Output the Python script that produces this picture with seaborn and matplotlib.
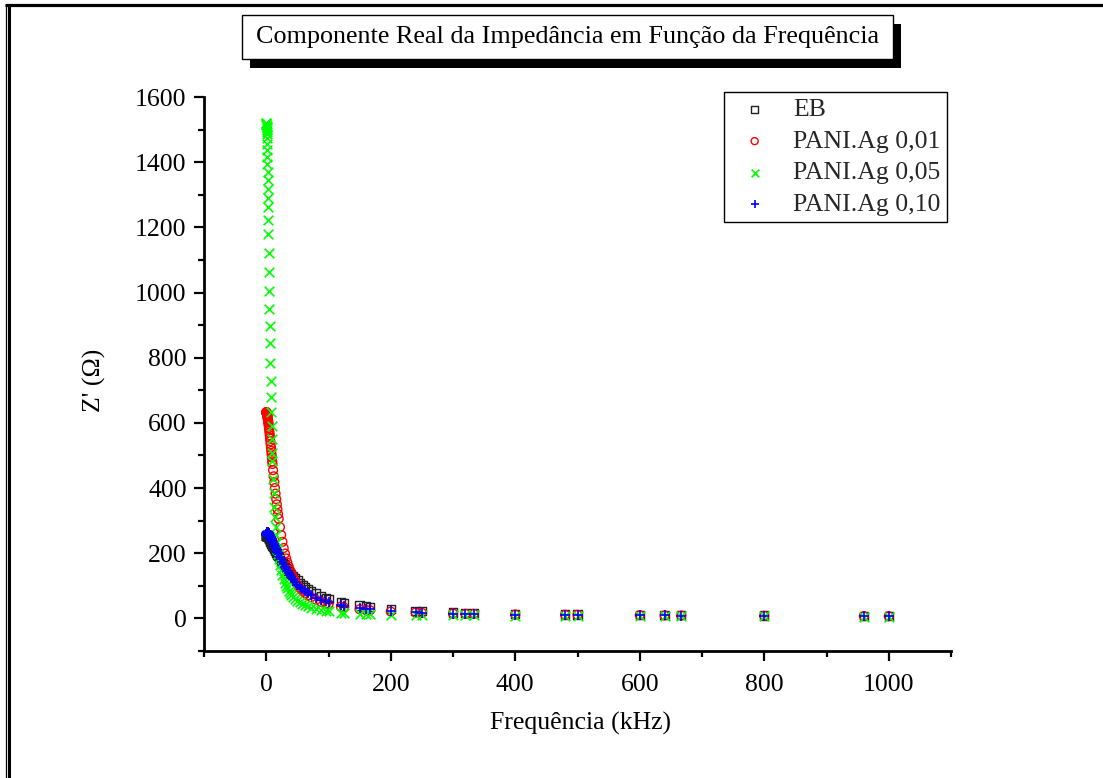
import matplotlib
matplotlib.use("Agg")
import matplotlib.pyplot as plt
from matplotlib.lines import Line2D
from matplotlib.patches import Rectangle
from matplotlib.ticker import MultipleLocator
import seaborn as sns

# Frequency sweep (kHz), shared by all samples
freq_khz = [
    0.1, 0.2, 0.3, 0.4, 0.5, 0.6, 0.7, 0.8, 0.9, 1.0,
    1.2, 1.4, 1.6, 1.8, 2.0, 2.2, 2.4, 2.6, 2.8, 3.0,
    3.3, 3.6, 4.0, 4.4, 4.8, 5.2, 5.6, 6.0, 6.5, 7.0,
    7.5, 8.0, 8.5, 9.0, 9.6, 10, 11, 12, 13, 14,
    15, 16, 17, 18, 19, 20, 22, 24, 26, 28,
    30, 32, 34, 36, 38, 40, 43, 46, 50, 54,
    58, 62, 66.7, 72, 80, 88, 96, 100, 120, 125,
    150, 160, 166.7, 200, 240, 250, 300, 320, 333.3, 400,
    480, 500, 600, 640, 666.7, 800, 960, 1000,
]

# Real part of the impedance Z' (ohm) for each sample
z_eb = [
    252, 252, 253, 253, 253, 254, 254, 254, 254, 254,
    254, 254, 254, 254, 253, 253, 253, 252, 252, 251,
    250, 249, 248, 246, 245, 243, 242, 240, 238, 236,
    234, 232, 230, 228, 226, 224, 220, 216, 213, 209,
    206, 202, 199, 196, 192, 189, 183, 177, 171, 165,
    160, 155, 150, 145, 140, 136, 130, 124, 116, 109,
    103, 97, 91, 84, 76, 69, 63, 60, 50, 48,
    40, 37, 35, 28, 23, 22, 18, 17, 17, 14,
    12, 12, 11, 10, 10, 9, 8, 8,
]
z_ag001 = [
    633, 633, 632, 632, 631, 631, 630, 630, 629, 628,
    627, 625, 623, 621, 619, 617, 614, 612, 609, 606,
    602, 597, 591, 584, 577, 570, 562, 554, 544, 534,
    524, 514, 504, 494, 482, 474, 455, 436, 418, 400,
    383, 366, 350, 335, 320, 306, 280, 256, 235, 216,
    199, 184, 171, 159, 148, 139, 126, 115, 103, 93,
    85, 78, 71, 65, 57, 51, 46, 44, 36, 34,
    28, 26, 25, 21, 18, 17, 15, 14, 14, 12,
    11, 11, 10, 9, 9, 8, 7, 7,
]
z_ag005 = [
    1520, 1519, 1517, 1515, 1512, 1508, 1504, 1499, 1493, 1487,
    1473, 1456, 1437, 1416, 1393, 1369, 1344, 1317, 1290, 1262,
    1222, 1179, 1121, 1063, 1006, 950, 896, 845, 785, 730,
    679, 633, 590, 551, 508, 482, 429, 385, 343, 311,
    282, 256, 234, 214, 197, 182, 165, 148, 133, 121,
    110, 100, 92, 85, 78, 73, 66, 60, 54, 49,
    45, 41, 37, 33, 29, 26, 23, 22, 18, 17,
    15, 14, 14, 12, 11, 10, 9, 9, 9, 8,
    7, 7, 6, 6, 6, 6, 5, 5,
]
z_ag010 = [
    256, 257, 258, 259, 260, 261, 262, 263, 263, 264,
    265, 265, 266, 266, 266, 266, 266, 266, 265, 265,
    264, 263, 262, 261, 259, 258, 256, 254, 252, 250,
    248, 246, 244, 242, 239, 237, 233, 229, 225, 221,
    217, 213, 209, 205, 201, 197, 189, 181, 173, 166,
    159, 152, 146, 140, 134, 128, 120, 113, 104, 96,
    90, 84, 77, 71, 63, 57, 52, 50, 41, 39,
    32, 30, 28, 23, 19, 18, 15, 14, 14, 12,
    11, 10, 9, 9, 8, 8, 7, 7,
]

series_labels = ["EB", "PANI.Ag 0,01", "PANI.Ag 0,05", "PANI.Ag 0,10"]

sns.set_style("ticks")
plt.rcParams["font.family"] = ["Liberation Serif", "DejaVu Serif"]
FS = 18.5

W, H = 1103, 778
fig = plt.figure(figsize=(W / 100, H / 100), dpi=100)
fig.patch.set_facecolor("white")

# page border (top and left edges)
fig.add_artist(Line2D([5 / W, 1], [1 - 5 / H, 1 - 5 / H], transform=fig.transFigure,
                      color="black", lw=2.3, solid_capstyle="butt"))
fig.add_artist(Line2D([5.5 / W, 5.5 / W], [0, 1 - 3.5 / H], transform=fig.transFigure,
                      color="black", lw=0.9, solid_capstyle="butt"))
fig.add_artist(Line2D([8.7 / W, 8.7 / W], [0, 1 - 3.5 / H], transform=fig.transFigure,
                      color="black", lw=2.2, solid_capstyle="butt"))

ax = fig.add_axes([204 / W, 1 - 651 / H, (951 - 204) / W, (651 - 97) / H])

sns.scatterplot(x=freq_khz, y=z_eb, ax=ax, marker="s", s=36, facecolor="none",
                edgecolor="#222222", linewidth=1.0, label=series_labels[0])
sns.scatterplot(x=freq_khz, y=z_ag001, ax=ax, marker="o", s=40, facecolor="none",
                edgecolor="#ff0000", linewidth=1.0, label=series_labels[1])
sns.scatterplot(x=freq_khz, y=z_ag005, ax=ax, marker="x", s=48, color="#00ff00",
                linewidth=1.2, label=series_labels[2])
sns.scatterplot(x=freq_khz, y=z_ag010, ax=ax, marker="+", s=52, color="#0000ff",
                linewidth=1.2, label=series_labels[3])

ax.set_xlim(-100, 1100)
ax.set_ylim(-100, 1600)
ax.xaxis.set_major_locator(MultipleLocator(200))
ax.xaxis.set_minor_locator(MultipleLocator(100))
ax.yaxis.set_major_locator(MultipleLocator(200))
ax.yaxis.set_minor_locator(MultipleLocator(100))

for side in ("top", "right"):
    ax.spines[side].set_visible(False)
for side in ("left", "bottom"):
    ax.spines[side].set_linewidth(2.0)
    ax.spines[side].set_color("black")

ax.tick_params(axis="both", which="major", direction="out", length=7.5, width=1.6,
               color="black", labelsize=FS, labelcolor="black")
ax.tick_params(axis="both", which="minor", direction="out", length=4, width=1.6,
               color="black")
ax.tick_params(axis="x", which="major", pad=9)
ax.tick_params(axis="y", which="major", pad=5)

ax.set_xlabel("Frequência (kHz)", fontsize=FS, color="black")
ax.set_ylabel("Z' (Ω)", fontsize=FS, color="black")
ax.xaxis.set_label_coords((580 - 204) / 747, (651 - 712) / 554)
ax.yaxis.set_label_coords((106 - 204) / 747, (651 - 380) / 554)
ax.grid(False)

leg = ax.legend(loc="upper right", bbox_to_anchor=(947 / W, 1 - 92 / H),
                bbox_transform=fig.transFigure, fontsize=FS, frameon=True,
                fancybox=False, framealpha=1, edgecolor="black", borderpad=0.25,
                handlelength=1.9, handletextpad=0.55, labelspacing=0.33,
                markerscale=0.8, borderaxespad=0)
leg.get_frame().set_linewidth(1.0)

# boxed title with a drop shadow
fig.add_artist(Rectangle((250 / W, 1 - 68 / H), (893 - 242) / W, (59 - 15) / H,
                         transform=fig.transFigure, facecolor="black", edgecolor="none"))
fig.add_artist(Rectangle((242 / W, 1 - 59 / H), (893 - 242) / W, (59 - 15) / H,
                         transform=fig.transFigure, facecolor="white", edgecolor="black",
                         linewidth=1.0))
fig.text(567.5 / W, 1 - 37 / H, "Componente Real da Impedância em Função da Frequência",
         ha="center", va="center", fontsize=FS + 0.3, color="black")

fig.savefig("out.png", dpi=100, facecolor="white")
